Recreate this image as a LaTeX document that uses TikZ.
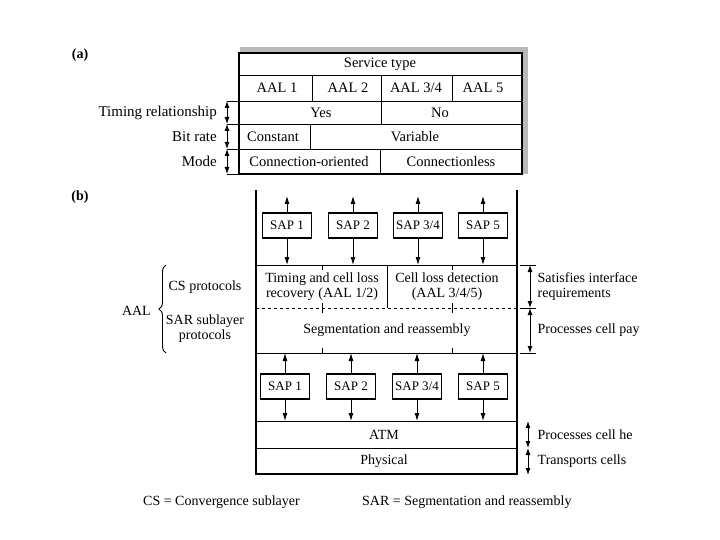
\documentclass[tikz,border=0pt]{standalone}
\usepackage{fontspec}
\setmainfont{Liberation Serif}
\usetikzlibrary{arrows.meta,decorations.pathreplacing}
\begin{document}
\begin{tikzpicture}[x=1pt,y=-1pt,
  font=\fontsize{14}{15}\selectfont,
  every node/.style={inner sep=0pt},
  frame/.style={line width=1.4pt},
  thin line/.style={line width=0.9pt},
  sap/.style={draw,line width=1.8pt,minimum width=49pt,minimum height=25pt,font=\fontsize{13}{15}\selectfont},
  arr/.style={line width=0.9pt,-{Latex[length=8pt,width=5pt]}},
  darr/.style={line width=0.9pt,{Latex[length=7pt,width=5pt]}-{Latex[length=7pt,width=5pt]}},
  lbl/.style={anchor=east,font=\fontsize{15}{17}\selectfont},
  rlbl/.style={anchor=west,align=left},
  cell/.style={font=\fontsize{14.5}{16}\selectfont},
]
\useasboundingbox (0,0) rectangle (720,540);
\fill[white] (0,0) rectangle (720,540);

% ---------------- (a) ----------------
\node[font=\fontsize{14}{15}\selectfont\bfseries] (la) at (80,55) {(a)};
\fill[gray!55] (240,47) rectangle (528,53);
\fill[gray!55] (522,47) rectangle (528,174);
\draw[frame] (239,53) rectangle (522,174);
\draw[thin line] (239,75) -- (522,75) (239,101) -- (522,101) (239,124) -- (522,124) (239,149) -- (522,149);
\draw[thin line] (312,75) -- (312,101) (381,75) -- (381,101) (452,75) -- (452,101);
\draw[thin line] (381,101) -- (381,124);
\draw[thin line] (310,124) -- (310,149);
\draw[thin line] (380,149) -- (380,174);
\node[cell] (st) at (380,64) {Service type};
\node[cell] (a1) at (277,88) {AAL 1};
\node[cell] (a2) at (348,88) {AAL 2};
\node[cell] (a34) at (416,88) {AAL 3/4};
\node[cell] (a5) at (483,88) {AAL 5};
\node[cell] (yes) at (321,112.5) {Yes};
\node[cell] (no) at (440,112.5) {No};
\node[cell] (const) at (273,136.5) {Constant};
\node[cell] (var) at (415,136.5) {Variable};
\node[cell] (co) at (309,161.5) {Connection-oriented};
\node[cell] (cl) at (451,161.5) {Connectionless};
% left scale
\foreach \y in {101,124,149,174} \draw[thin line] (227,\y) -- (239,\y);
\coordinate (ta1) at (227,101); \coordinate (ta2) at (227,124);
\coordinate (ta3) at (227,149); \coordinate (ta4) at (227,174);
\draw[darr] (ta1) -- (ta2);
\draw[darr] (ta2) -- (ta3);
\draw[darr] (ta3) -- (ta4);
\node[lbl] (tr) at (217,112.5) {Timing relationship};
\node[lbl] (br) at (217,136.5) {Bit rate};
\node[lbl] (md) at (217,161.5) {Mode};

% ---------------- (b) ----------------
\node[font=\fontsize{14}{15}\selectfont\bfseries] (lb) at (80,197) {(b)};
\draw[frame] (256,190) -- (256,474) -- (517,474) -- (517,190);
\draw[thin line] (256,265) -- (517,265);
\draw[thin line,dashed] (256,308) -- (536,308);
\draw[thin line] (256,353) -- (517,353);
\draw[thin line] (256,421) -- (517,421);
\draw[thin line] (256,448) -- (517,448);
\draw[thin line] (387,265) -- (387,308);
\foreach \x in {322,452} {
  \draw[thin line] (\x,265) -- (\x,270);
  \draw[thin line] (\x,303) -- (\x,313);
  \draw[thin line] (\x,348) -- (\x,353);
}
% upper SAPs
\node[sap] (u1) at (287,225.5) {SAP 1};
\node[sap] (u2) at (353,225.5) {SAP 2};
\node[sap] (u3) at (418,225.5) {SAP 3/4};
\node[sap] (u4) at (483,225.5) {SAP 5};
\coordinate (top) at (0,196);
\coordinate (cstop) at (0,265);
\foreach \n in {u1,u2,u3,u4} {
  \draw[arr] (\n.north) -- (\n.north |- top);
  \draw[arr] (\n.south) -- (\n.south |- cstop);
}
% lower SAPs
\node[sap] (d1) at (285,386.5) {SAP 1};
\node[sap] (d2) at (351,386.5) {SAP 2};
\node[sap] (d3) at (417,386.5) {SAP 3/4};
\node[sap] (d4) at (483,386.5) {SAP 5};
\coordinate (sarb) at (0,353);
\coordinate (atmt) at (0,421);
\foreach \n in {d1,d2,d3,d4} {
  \draw[arr] (\n.north) -- (\n.north |- sarb);
  \draw[arr] (\n.south) -- (\n.south |- atmt);
}
% layer texts
\node[align=center] (cs1) at (322,286.5) {Timing and cell loss\\recovery (AAL 1/2)};
\node[align=center] (cs2) at (447,286.5) {Cell loss detection\\(AAL 3/4/5)};
\node (sar) at (387,330) {Segmentation and reassembly};
\node (atm) at (384,434.5) {ATM};
\node (phy) at (384,461) {Physical};
% right side
\foreach \y in {265,308,353} \draw[thin line] (520,\y) -- (536,\y);
\coordinate (r1) at (530,265); \coordinate (r2) at (530,308); \coordinate (r3) at (530,353);
\draw[darr] (r1) -- (r2);
\draw[darr] (r2) -- (r3);
\coordinate (q1) at (528,421); \coordinate (q2) at (528,448); \coordinate (q3) at (528,475);
\draw[darr] (q1) -- (q2);
\draw[darr] (q2) -- (q3);
\node[rlbl] (sat) at (537.5,286.5) {Satisfies interface\\requirements};
\node[rlbl] (pcp) at (537.5,330) {Processes cell pay};
\node[rlbl] (pch) at (537.5,434.5) {Processes cell he};
\node[rlbl] (tc) at (537.5,461) {Transports cells};
% left side
\node (csp) at (205,287.5) {CS protocols};
\node[align=center] (sarp) at (205,329) {SAR sublayer\\protocols};
\draw[line width=0.9pt,decorate,decoration={brace,amplitude=7pt,mirror}] (166,265) -- (166,353);
\node[anchor=east] (aal) at (151,311) {AAL};
% captions
\node[anchor=west] (capcs) at (143,502) {CS = Convergence sublayer};
\node[anchor=west] (capsar) at (362,502) {SAR = Segmentation and reassembly};
\end{tikzpicture}
\end{document}
